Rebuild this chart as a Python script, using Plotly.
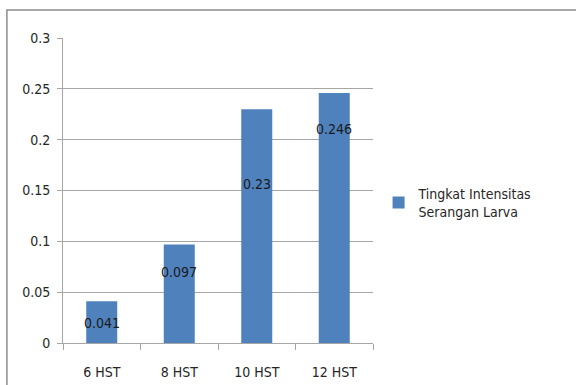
import plotly.graph_objects as go

# Larval attack intensity by days after planting
categories = ["6 HST", "8 HST", "10 HST", "12 HST"]
values = [0.041, 0.097, 0.23, 0.246]
series_name = "Tingkat Intensitas<br>Serangan Larva"
y_ticks = [0, 0.05, 0.1, 0.15, 0.2, 0.25, 0.3]
y_tick_text = ["0", "0.05", "0.1", "0.15", "0.2", "0.25", "0.3"]

# where each value label sits, as a fraction of its bar height
label_frac = [0.48, 0.72, 0.68, 0.855]

FONT = "DejaVu Sans Condensed, Noto Sans, sans-serif"
GRID = "#a6a6a6"
TEXT = "#262626"

fig = go.Figure()
fig.add_trace(go.Bar(
    x=categories, y=values, name=series_name,
    marker=dict(color="#4F81BD", line=dict(width=0)),
    width=0.4, showlegend=True,
))

for c, v, f in zip(categories, values, label_frac):
    fig.add_annotation(x=c, y=v * f, text=str(v), showarrow=False,
                       font=dict(family=FONT, size=14, color="#1a1a1a"),
                       xanchor="center", yanchor="middle")

# outer chart border (runs off the right and bottom)
fig.add_shape(type="rect", xref="paper", yref="paper",
              x0=-0.181, y0=-1.0, x1=2.0, y1=1.092,
              line=dict(color="#8c8c8c", width=1.5), layer="above")

fig.update_layout(
    width=576, height=385,
    margin=dict(l=63, r=203, t=38, b=42),
    paper_bgcolor="white", plot_bgcolor="white",
    font=dict(family=FONT, size=13, color=TEXT),
    bargap=0.6,
    legend=dict(x=1.018, y=0.46, xanchor="left", yanchor="middle",
                font=dict(family=FONT, size=14, color=TEXT),
                itemwidth=30, tracegroupgap=0, bgcolor="rgba(0,0,0,0)"),
    xaxis=dict(
        type="category", tickson="boundaries", ticks="outside", ticklen=6,
        tickcolor=GRID, showline=True, linecolor=GRID, linewidth=1,
        showgrid=False, ticklabelstandoff=16, automargin=False,
        tickfont=dict(family=FONT, size=14, color=TEXT),
    ),
    yaxis=dict(
        range=[0, 0.3], tickvals=y_ticks, ticktext=y_tick_text,
        ticks="outside", ticklen=5, tickcolor=GRID,
        showline=True, linecolor=GRID, linewidth=1,
        showgrid=True, gridcolor=GRID, gridwidth=1, zeroline=False,
        ticklabelstandoff=4, automargin=False,
        tickfont=dict(family=FONT, size=14, color=TEXT),
    ),
)

fig.write_html("out.html")
